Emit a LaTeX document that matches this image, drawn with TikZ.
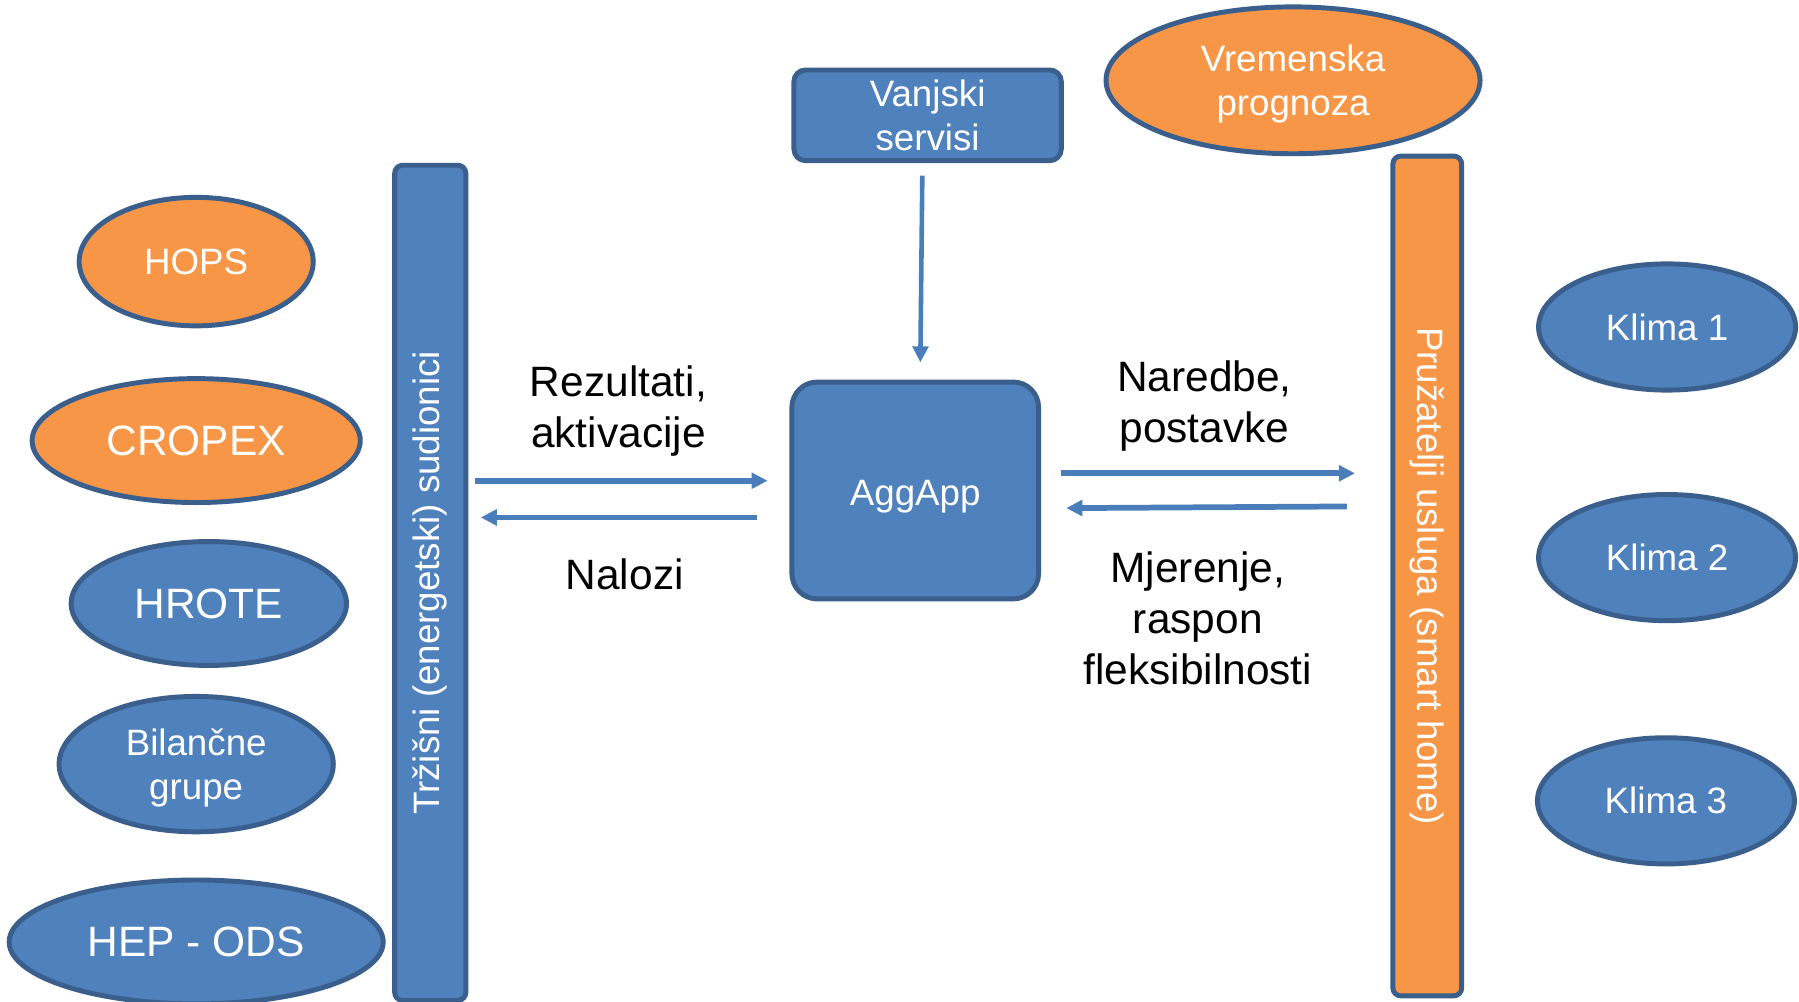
\documentclass[tikz,border=0pt]{standalone}
\usepackage{fontspec}
\setmainfont{Liberation Sans}
\usetikzlibrary{shapes.geometric,arrows.meta}
\definecolor{bfill}{HTML}{4F81BD}
\definecolor{ofill}{HTML}{F79646}
\definecolor{bline}{HTML}{3A5F8C}
\definecolor{arrc}{HTML}{4A7EBB}
\newcommand\myfs[2]{\fontsize{#1}{#2}\selectfont}
\tikzset{
  ell/.style={ellipse, draw=bline, line width=4.3pt, text=white, align=center, inner sep=0pt},
  bell/.style={ell, fill=bfill},
  oell/.style={ell, fill=ofill},
  rbox/.style={rectangle, rounded corners=#1, draw=bline, line width=4.3pt, text=white, align=center, inner sep=0pt},
  lbl/.style={text=black, align=center, inner sep=0pt, font=\myfs{37}{44.4}},
  arr/.style={draw=arrc, line width=5pt, -{Triangle[length=14pt,width=13.5pt]}},
}
\begin{document}
\begin{tikzpicture}[x=1pt,y=-1pt]
\useasboundingbox (0,0) rectangle (1568,873);
\fill[white] (0,0) rectangle (1568,873);

% left ellipses
\node[oell, minimum width=204pt, minimum height=112pt, font=\myfs{32}{38}] (hops) at (171,228) {HOPS};
\node[oell, minimum width=286pt, minimum height=108pt, font=\myfs{37}{44}] (cropex) at (171,384) {CROPEX};
\node[bell, minimum width=240pt, minimum height=108pt, font=\myfs{37}{44}] (hrote) at (182,526) {HROTE};
\node[bell, minimum width=239pt, minimum height=118pt, font=\myfs{32}{38.5}, text depth=0pt] (bil) at (171,666) {Bilančne\\grupe};
\node[bell, minimum width=326pt, minimum height=108pt, font=\myfs{37}{44}] (hep) at (171,821) {HEP - ODS};

% left bar
\node[rbox=7pt, fill=bfill, rotate=90, minimum width=728pt, minimum height=62pt, font=\myfs{32}{38}] (lbar) at (375,508) {Tržišni (energetski) sudionici};

% top
\node[rbox=10pt, fill=bfill, minimum width=233pt, minimum height=79pt, font=\myfs{32}{37.6}] (vanj) at (808.5,100.5) {Vanjski\\servisi};
\node[oell, minimum width=326pt, minimum height=128pt, font=\myfs{32}{39}, text depth=0pt] (vrem) at (1127,70) {Vremenska\\prognoza};

% center
\node[rbox=22pt, fill=bfill, minimum width=215pt, minimum height=189pt, font=\myfs{32}{38}, text height=27pt, text depth=0pt] (agg) at (797.7,427.5) {AggApp};

% right bar
\node[rbox=7pt, fill=ofill, rotate=-90, minimum width=732pt, minimum height=60pt, font=\myfs{32}{38}] (rbar) at (1244,502) {Pružatelji usluga (smart home)};

% right ellipses
\node[bell, minimum width=224pt, minimum height=110pt, font=\myfs{32}{38}] (k1) at (1453,285) {Klima 1};
\node[bell, minimum width=224pt, minimum height=110pt, font=\myfs{32}{38}] (k2) at (1453,486) {Klima 2};
\node[bell, minimum width=224pt, minimum height=110pt, font=\myfs{32}{38}] (k3) at (1452,698) {Klima 3};

% labels
\node[lbl] (l1) at (539,358) {Rezultati,\\aktivacije};
\node[lbl] (l2) at (544.5,500.5) {Nalozi};
\node[lbl] (l3) at (1049.7,353.5) {Naredbe,\\postavke};
\node[lbl] (l4) at (1044,539) {Mjerenje,\\raspon\\fleksibilnosti};

% helper coordinates
\coordinate (yl1) at (0,419);
\coordinate (yl2) at (0,451);
\coordinate (yr1) at (0,412.5);
\coordinate (yr2a) at (0,441);
\coordinate (yr2b) at (0,443);
\coordinate (vx1) at (804,0);
\coordinate (vx2) at (802,0);

% arrows
\draw[arr, line width=4pt, shorten <=11pt, shorten >=15pt] (vanj.south -| vx1) -- (agg.north -| vx2);
\draw[arr, shorten <=39pt, shorten >=19pt] (lbar.center |- yl1) -- (agg.west |- yl1);
\draw[arr, shorten <=28pt, shorten >=44pt] (agg.west |- yl2) -- (lbar.center |- yl2);
\draw[arr, shorten <=17pt, shorten >=63pt] (agg.east |- yr1) -- (rbar.center |- yr1);
\draw[arr, shorten <=70pt, shorten >=22pt] (rbar.center |- yr2a) -- (agg.east |- yr2b);
\end{tikzpicture}
\end{document}
